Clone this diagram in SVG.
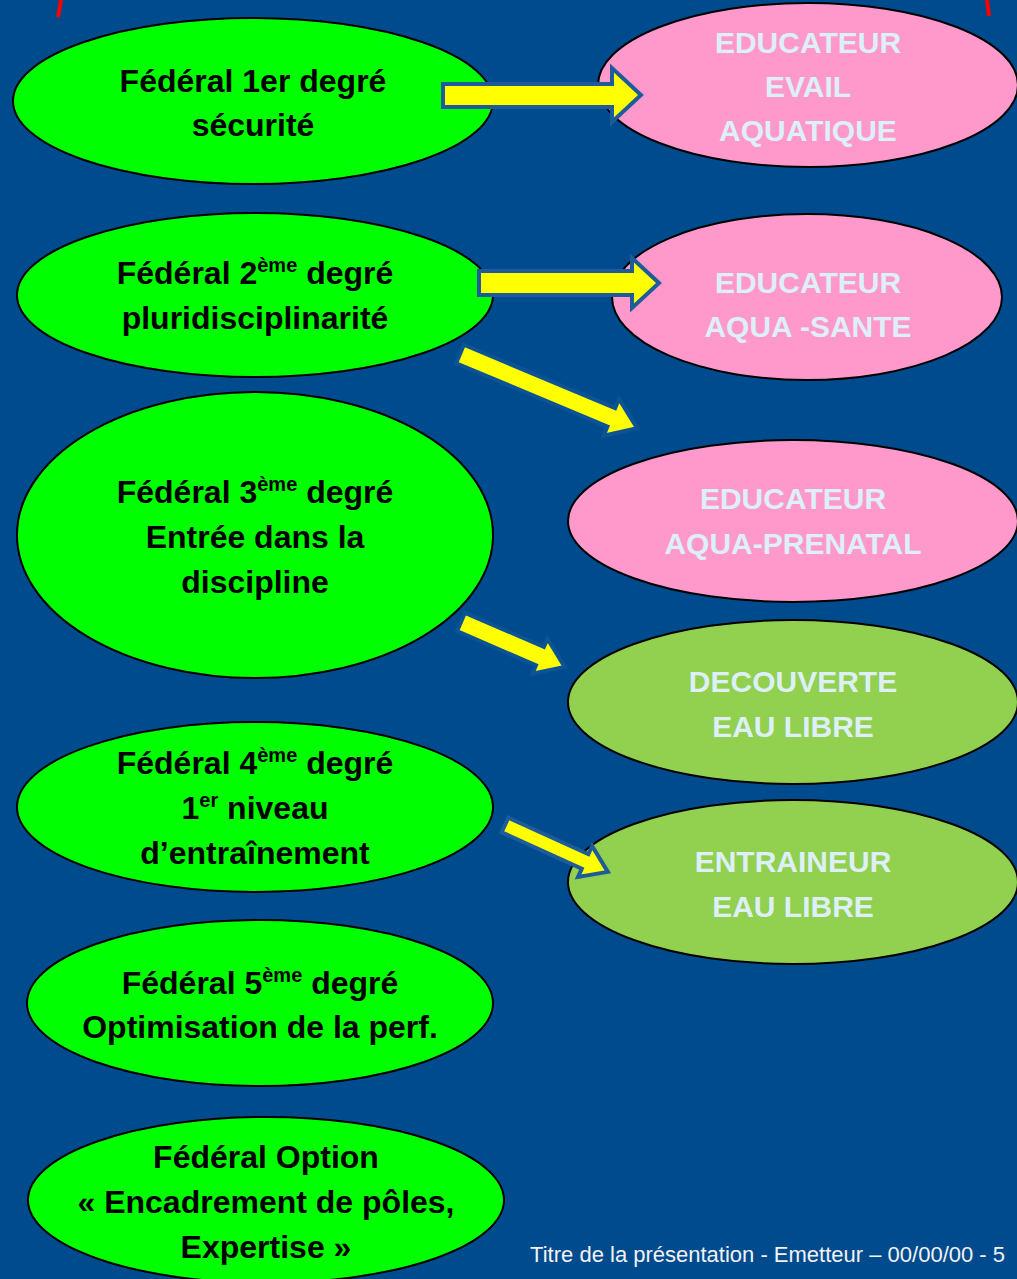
<svg xmlns="http://www.w3.org/2000/svg" width="1017" height="1279" viewBox="0 0 1017 1279">
<style>
.bg{fill:#004B8E}
.lg{fill:#00FF00;stroke:#000;stroke-width:2}
.pk{fill:#FF99CC;stroke:#000;stroke-width:2}
.gr{fill:#92D050;stroke:#000;stroke-width:2}
.tl{font-family:"Liberation Sans",Arial,sans-serif;font-weight:bold;font-size:32px;fill:#000;text-anchor:middle}
.tr{font-family:"Liberation Sans",Arial,sans-serif;font-weight:bold;font-size:30px;fill:#DDEFF7;text-anchor:middle}
.sup{font-size:20px}
.ar{fill:#FFFF00;stroke:#1E5B9B;stroke-width:4;stroke-linejoin:miter}
.ar2{fill:#FFFF00;stroke:#0C5396;stroke-width:4;stroke-linejoin:miter}
.red{fill:none;stroke:#FF0000;stroke-width:4}
.ft{font-family:"Liberation Sans",Arial,sans-serif;font-size:22px;fill:#F2F2F2;text-anchor:end}
</style>
<rect class="bg" x="0" y="0" width="1017" height="1279"/>
<path class="red" d="M61,0 L58,17"/>
<path class="red" d="M987,0 L989,16"/>

<g id="n1">
<ellipse class="lg" cx="253" cy="101" rx="240" ry="83"/>
<text class="tl" x="253" y="92">Fédéral 1er degré</text>
<text class="tl" x="253" y="136">sécurité</text>
</g>
<g id="n2">
<ellipse class="lg" cx="255" cy="295" rx="238" ry="82"/>
<text class="tl" x="255" y="284">Fédéral 2<tspan class="sup" dy="-12">ème</tspan><tspan dy="12"> degré</tspan></text>
<text class="tl" x="255" y="329">pluridisciplinarité</text>
</g>
<g id="n3">
<ellipse class="lg" cx="255" cy="535" rx="238" ry="143"/>
<text class="tl" x="255" y="503">Fédéral 3<tspan class="sup" dy="-12">ème</tspan><tspan dy="12"> degré</tspan></text>
<text class="tl" x="255" y="548">Entrée dans la</text>
<text class="tl" x="255" y="593">discipline</text>
</g>
<g id="n4">
<ellipse class="lg" cx="255" cy="807" rx="238" ry="85"/>
<text class="tl" x="255" y="774">Fédéral 4<tspan class="sup" dy="-12">ème</tspan><tspan dy="12"> degré</tspan></text>
<text class="tl" x="255" y="819">1<tspan class="sup" dy="-12">er</tspan><tspan dy="12"> niveau</tspan></text>
<text class="tl" x="255" y="864">d’entraînement</text>
</g>
<g id="n5">
<ellipse class="lg" cx="260" cy="1003" rx="233" ry="83"/>
<text class="tl" x="260" y="994">Fédéral 5<tspan class="sup" dy="-12">ème</tspan><tspan dy="12"> degré</tspan></text>
<text class="tl" x="260" y="1038">Optimisation de la perf.</text>
</g>
<g id="n6">
<ellipse class="lg" cx="266" cy="1200" rx="238" ry="83"/>
<text class="tl" x="266" y="1168">Fédéral Option</text>
<text class="tl" x="266" y="1213">« Encadrement de pôles,</text>
<text class="tl" x="266" y="1258">Expertise »</text>
</g>

<g id="r1">
<ellipse class="pk" cx="808" cy="85" rx="210" ry="82"/>
<text class="tr" x="808" y="53">EDUCATEUR</text>
<text class="tr" x="808" y="97">EVAIL</text>
<text class="tr" x="808" y="141">AQUATIQUE</text>
</g>
<g id="r2">
<ellipse class="pk" cx="807" cy="297" rx="195" ry="83"/>
<text class="tr" x="808" y="293">EDUCATEUR</text>
<text class="tr" x="808" y="337">AQUA -SANTE</text>
</g>
<g id="r3">
<ellipse class="pk" cx="793" cy="521" rx="225" ry="81"/>
<text class="tr" x="793" y="509">EDUCATEUR</text>
<text class="tr" x="793" y="554">AQUA-PRENATAL</text>
</g>
<g id="r4">
<ellipse class="gr" cx="793" cy="702" rx="225" ry="82"/>
<text class="tr" x="793" y="692">DECOUVERTE</text>
<text class="tr" x="793" y="737">EAU LIBRE</text>
</g>
<g id="r5">
<ellipse class="gr" cx="793" cy="882" rx="225" ry="82"/>
<text class="tr" x="793" y="872">ENTRAINEUR</text>
<text class="tr" x="793" y="917">EAU LIBRE</text>
</g>

<g id="connectors">
<polygon class="ar" points="443,84 612,84 612,68 641,95 612,122 612,107 443,107"/>
<polygon class="ar" points="479,271 632,271 632,258 659,283 632,308 632,295 479,295"/>
<polygon class="ar2" transform="translate(460,354) rotate(22.7)" points="0,-10 164,-10 164,-20 192,0 164,20 164,10 0,10"/>
<polygon class="ar2" transform="translate(461,622) rotate(23.4)" points="0,-10 86,-10 86,-19 113,0 86,19 86,10 0,10"/>
<polygon class="ar" transform="translate(505,825) rotate(24.5)" points="0,-8 88,-8 88,-17 113,0 88,17 88,8 0,8"/>
</g>

<text class="ft" x="1005" y="1262">Titre de la présentation - Emetteur – 00/00/00 - 5</text>
</svg>
